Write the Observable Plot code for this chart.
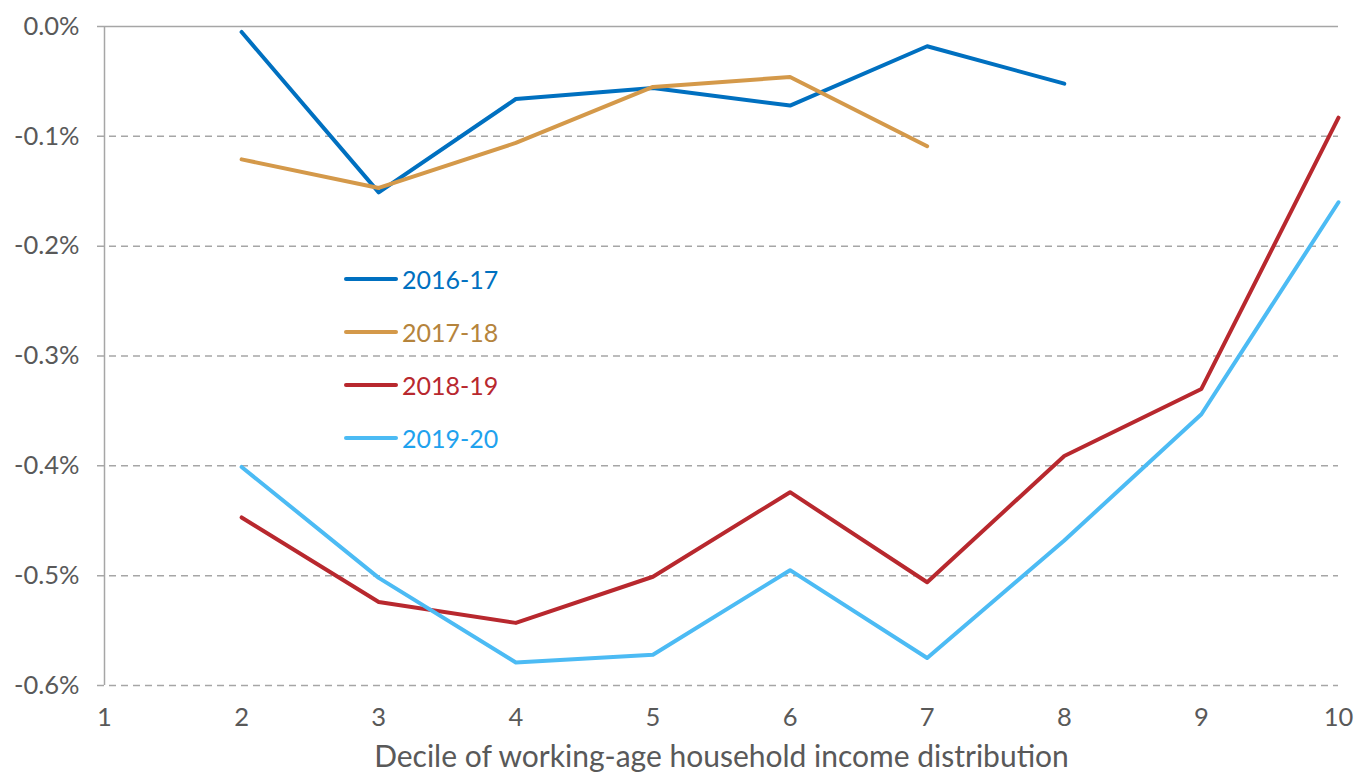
<!DOCTYPE html>
<html>
<head>
<meta charset="utf-8">
<script src="https://cdn.jsdelivr.net/npm/d3@7"></script>
<script src="https://cdn.jsdelivr.net/npm/@observablehq/plot@0.6"></script>
<style>
  html, body { margin: 0; padding: 0; background: #fff; }
  #wrap { position: relative; width: 1365px; height: 774px; font-family: Lato, "Open Sans", sans-serif; }
  #legend { position: absolute; left: 344px; top: 252px; }
  .item { display: flex; align-items: center; height: 53px; font-size: 25px; }
  .item .sw { width: 54px; height: 4px; border-radius: 2px; margin-right: 4px; }
</style>
</head>
<body>
<div id="wrap"></div>
<script>
const deciles = [2, 3, 4, 5, 6, 7, 8, 9, 10];
const seriesNames = ["2016-17", "2017-18", "2018-19", "2019-20"];
const colors = ["#0070C0", "#D4994A", "#B8282E", "#4CBBF4"];
const textColors = ["#0070C0", "#B5843C", "#B8282E", "#1FA2EE"];
const v2016 = [-0.005, -0.151, -0.066, -0.056, -0.072, -0.018, -0.052];
const v2017 = [-0.121, -0.147, -0.106, -0.055, -0.046, -0.109];
const v2018 = [-0.447, -0.524, -0.543, -0.501, -0.424, -0.506, -0.391, -0.330, -0.083];
const v2019 = [-0.401, -0.502, -0.579, -0.572, -0.495, -0.575, -0.468, -0.353, -0.160];
const yTicks = [0, -0.1, -0.2, -0.3, -0.4, -0.5, -0.6];
const xTicks = [1, 2, 3, 4, 5, 6, 7, 8, 9, 10];
const xTitle = "Decile of working-age household income distribution";

const allValues = [v2016, v2017, v2018, v2019];
const rows = [];
allValues.forEach((vals, i) => vals.forEach((v, j) => rows.push({series: seriesNames[i], decile: deciles[j], value: v})));

const fmt = d => (d < 0 ? "-" : "") + Math.abs(d).toFixed(1) + "%";

const chart = Plot.plot({
  width: 1365,
  height: 774,
  marginTop: 26,
  marginBottom: 89,
  marginLeft: 104,
  marginRight: 27,
  style: {fontFamily: "Lato, 'Open Sans', sans-serif", background: "#fff"},
  x: {domain: [1, 10]},
  y: {domain: [-0.6, 0]},
  color: {domain: seriesNames, range: colors},
  marks: [
    Plot.ruleY(yTicks.filter(t => t < 0), {y: d => d, stroke: "#A6A6A6", strokeWidth: 1.5, strokeDasharray: "7,5", insetLeft: -7}),
    Plot.ruleY([0], {stroke: "#A6A6A6", strokeWidth: 1.5, insetLeft: -7}),
    Plot.ruleX([1], {stroke: "#A6A6A6", strokeWidth: 1.5}),
    Plot.axisY({ticks: yTicks, tickFormat: fmt, tickSize: 0, tickPadding: 25, fontSize: 25.5, color: "#595959", label: null}),
    Plot.axisX({ticks: xTicks, tickFormat: d => String(d), tickSize: 0, tickPadding: 22, fontSize: 25.5, color: "#595959", label: xTitle, labelAnchor: "center", labelOffset: 81, labelArrow: "none"}),
    Plot.line(rows, {x: "decile", y: "value", z: "series", stroke: "series", strokeWidth: 4, strokeLinejoin: "round", strokeLinecap: "round"})
  ]
});
chart.querySelectorAll("[aria-label='x-axis label'] text, [aria-label='x-axis label']").forEach(e => { e.style.fontSize = "30px"; });

const wrap = document.getElementById("wrap");
wrap.appendChild(chart);

const legend = document.createElement("div");
legend.id = "legend";
seriesNames.forEach((s, i) => {
  const item = document.createElement("div");
  item.className = "item";
  const sw = document.createElement("div");
  sw.className = "sw";
  sw.style.background = colors[i];
  const t = document.createElement("span");
  t.textContent = s;
  t.style.color = textColors[i];
  item.appendChild(sw);
  item.appendChild(t);
  legend.appendChild(item);
});
wrap.appendChild(legend);
</script>
</body>
</html>
